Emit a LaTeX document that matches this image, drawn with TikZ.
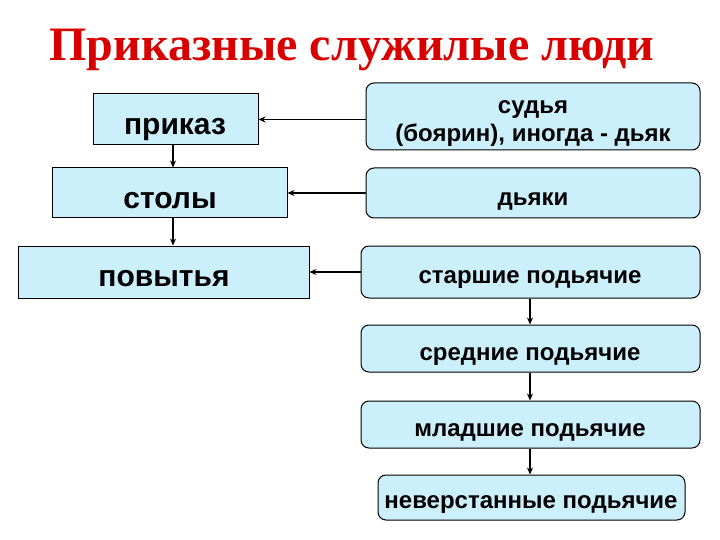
\documentclass[tikz,border=0pt]{standalone}
\usepackage{fontspec}
\setmainfont{Liberation Sans}
\newfontfamily\titlefont{Liberation Serif}
\usetikzlibrary{arrows.meta}
\begin{document}
\begin{tikzpicture}[x=1pt,y=-1pt,
  sq/.style={draw,fill=cyan!20,line width=1pt,inner sep=0pt},
  rb/.style={draw,fill=cyan!20,line width=1pt,rounded corners=8pt,inner sep=0pt},
  ar/.style={-{Stealth[length=7pt,width=6pt]},line width=1.4pt},
  lb/.style={font=\fontsize{30}{32}\selectfont\bfseries,inner sep=0pt},
  lr/.style={font=\fontsize{24}{28}\selectfont\bfseries,align=center,inner sep=0pt}]
\useasboundingbox (0,0) rectangle (720,540);
\node[font=\fontsize{48}{54}\selectfont\titlefont\bfseries,text=red!85!black] (t) at (352,50) {Приказные служилые люди};
\node[sq,minimum width=165pt,minimum height=51pt] (prikaz) at (175.5,119.5) {};
\node[sq,minimum width=235pt,minimum height=50pt] (stoly) at (169.5,193) {};
\node[sq,minimum width=291pt,minimum height=52pt] (povytya) at (163.5,272) {};
\node[rb,minimum width=334pt,minimum height=67pt] (sudya) at (533,116.5) {};
\node[rb,minimum width=334pt,minimum height=50pt] (dyaki) at (533,193) {};
\node[rb,minimum width=339pt,minimum height=52pt] (st) at (530.5,272) {};
\node[rb,minimum width=339pt,minimum height=47pt] (sr) at (530.5,348.5) {};
\node[rb,minimum width=339pt,minimum height=47pt] (ml) at (530.5,424.5) {};
\node[rb,minimum width=307pt,minimum height=45pt] (nv) at (531.5,497.5) {};
\node[lb] (l1) at (175,130) {приказ};
\node[lb] (l2) at (170,201) {столы};
\node[lb] (l3) at (164,279) {повытья};
\node[lr] (l4) at (533,124) {судья\\(боярин), иногда - дьяк};
\node[lr] (l5) at (533,202) {дьяки};
\node[lr] (l6) at (530,280) {старшие подьячие};
\node[lr] (l7) at (530,357) {средние подьячие};
\node[lr] (l8) at (530,432) {младшие подьячие};
\node[lr] (l9) at (531,505) {неверстанные подьячие};
\draw[ar] (sudya.west |- prikaz.east) -- (prikaz.east);
\draw[ar] (dyaki.west) -- (stoly.east);
\draw[ar] (st.west) -- (povytya.east);
\draw[ar] (prikaz.south -| 173,0) -- (stoly.north -| 173,0);
\draw[ar] (stoly.south -| 173,0) -- (povytya.north -| 173,0);
\draw[ar] (st.south -| 530,0) -- (sr.north -| 530,0);
\draw[ar] (sr.south -| 530,0) -- (ml.north -| 530,0);
\draw[ar] (ml.south -| 530,0) -- (nv.north -| 530,0);
\end{tikzpicture}
\end{document}
